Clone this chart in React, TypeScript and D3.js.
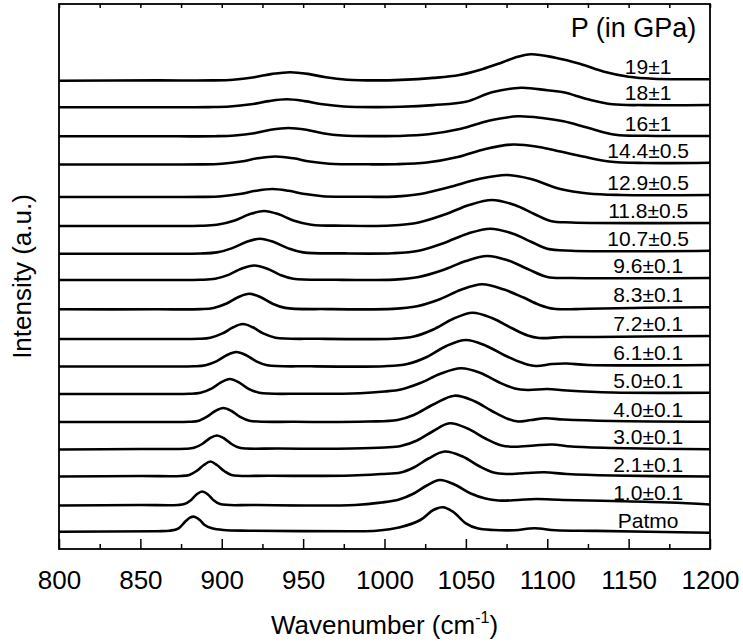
import React from 'react';
import * as d3 from 'd3';

// pressure labels, top spectrum first
const labels = ['19±1', '18±1', '16±1', '14.4±0.5', '12.9±0.5', '11.8±0.5', '10.7±0.5', '9.6±0.1',
    '8.3±0.1', '7.2±0.1', '6.1±0.1', '5.0±0.1', '4.0±0.1', '3.0±0.1', '2.1±0.1', '1.0±0.1', 'Patmo'];

// vertical stacking offset of each spectrum (a.u.)
const offsets = [468.3, 441.7, 412.7, 384.5, 352, 323, 295.3, 269, 239.7, 210, 182.5, 155, 127, 99.5, 72.5, 43.5, 17.3];

const majorTicks = [800, 850, 900, 950, 1000, 1050, 1100, 1150, 1200];
const minorTicks = [825, 875, 925, 975, 1025, 1075, 1125, 1175];

// [wavenumber, intensity above offset]
const s19 = [[800, 0], [860, 0.3], [894, 0.3], [907, 1], [920, 3.5], [931, 6.8], [942, 8.5], [953, 6.8], [964, 3.4], [977, 1], [995, 0.3],
    [1010, 0.8], [1030, 2.8], [1046, 5.7], [1060, 11.5], [1071, 17.5], [1080, 23], [1090, 26.5], [1105, 23], [1120, 17], [1135, 9],
    [1150, 4], [1165, 2], [1200, 1.4]];
const s18 = [[800, 0], [860, 0], [892, 0.2], [905, 0.8], [918, 3], [929, 6.2], [940, 8], [951, 6.2], [962, 3], [975, 0.8], [995, 0.2],
    [1010, 0.5], [1030, 2.2], [1050, 5.5], [1066, 15], [1084, 19.5], [1100, 17], [1110, 15], [1125, 8], [1140, 3], [1160, 2.2], [1200, 2.3]];
const s16 = [[800, 0], [860, 0], [896, 0.1], [908, 0.8], [920, 3.1], [930, 6.5], [941, 8.3], [952, 6.5], [962, 3.1], [974, 0.8], [995, 0.2],
    [1008, 0.3], [1027, 2], [1047, 7.5], [1064, 15.5], [1082, 20], [1098, 18], [1110, 15], [1125, 8.5], [1142, 1.5], [1160, 0.5], [1200, 0.3]];
const s14_4 = [[800, 0], [860, 0], [888, 0.1], [900, 0.8], [912, 3], [922, 6.2], [933, 8], [944, 6.2], [954, 3], [966, 0.8], [990, 0.2],
    [1007, 0.3], [1026, 2], [1045, 7.5], [1062, 15.6], [1079, 20], [1095, 17.5], [1108, 13], [1122, 8], [1138, 3], [1160, 1.5], [1200, 1.8]];
const s12_9 = [[800, 0], [860, 0], [889, 0.1], [900, 0.8], [911, 3], [921, 6.2], [931, 8], [941, 6.2], [951, 3], [962, 0.8], [990, 0.2],
    [1006, 0.4], [1022, 3], [1040, 10], [1058, 18], [1075, 22], [1090, 18], [1108, 8], [1125, 3.5], [1145, 2], [1200, 2]];
const s11_8 = [[800, 0], [860, 0], [887, 0.2], [897, 1.3], [908, 5.6], [917, 11.7], [926, 15], [935, 11.7], [944, 5.6], [955, 1.3], [975, 0.3],
    [1004, 0.5], [1021, 3.5], [1038, 12], [1052, 21], [1066, 26], [1080, 21], [1092, 12], [1102, 5], [1115, 3.5], [1200, 3]];
const s10_7 = [[800, 0], [860, 0], [887, 0.2], [897, 1.3], [906.5, 5.6], [915, 11.7], [923.5, 15], [932, 11.7], [940.5, 5.6], [950, 1.3], [975, 0.3],
    [1005, 0.5], [1021, 3], [1037, 11], [1051, 20], [1065, 25], [1079, 20], [1090, 12], [1100, 5], [1115, 3], [1200, 3]];
const s9_6 = [[800, 0], [860, 0], [887, 0.2], [896, 1.3], [904.5, 5.4], [912, 11.3], [920, 14.5], [928, 11.3], [935.5, 5.4], [944, 1.3], [970, 0.2],
    [1006, 0.4], [1021, 3], [1036, 10], [1050, 19], [1063, 24], [1076, 19.5], [1088, 11], [1100, 3], [1115, 2], [1200, 2]];
const s8_3 = [[800, 0], [860, 0], [887, 0.2], [895, 1.4], [903, 5.8], [910, 12.1], [917, 15.5], [924, 12.1], [931, 5.8], [939, 1.4], [965, 0.2],
    [1005, 0.4], [1020, 3], [1034, 10], [1047, 19.5], [1060, 25], [1073, 20], [1085, 12], [1095, 4.5], [1104, 0.5], [1125, 0.5], [1160, 1.5], [1200, 2]];
const s7_2 = [[800, 0], [860, 0], [886, 0.2], [893, 1.3], [900.5, 5.6], [907, 11.7], [913, 15], [919, 11.7], [925.5, 5.6], [933, 1.3], [960, 0.2],
    [1005, 0.3], [1018, 2.5], [1030, 9.5], [1042, 20], [1054, 26.3], [1066, 21], [1078, 11], [1088, 3.5], [1095, 1], [1110, 2], [1130, 2], [1160, 2.5], [1200, 3]];
const s6_1 = [[800, 0], [860, 0], [883, 0.2], [890, 1.3], [897, 5.4], [903, 11.3], [909, 14.5], [915, 11.3], [921, 5.4], [928, 1.3], [955, 0.2],
    [1000, 0.3], [1014, 2.5], [1026, 9.5], [1038, 20.5], [1050, 26.5], [1062, 21], [1074, 11], [1085, 3.5], [1093, 0.5], [1103, 2.5], [1112, 3], [1125, 1.5], [1200, 1.5]];
const s5_0 = [[800, 0], [860, 0], [880, 0.2], [887, 1.3], [894, 5.6], [899.5, 11.7], [905, 15], [910.5, 11.7], [916, 5.6], [923, 1.3], [950, 0.3],
    [985, 0.8], [1000, 2.5], [1010, 4.5], [1022, 11], [1034, 20], [1047, 25.7], [1059, 21], [1070, 12], [1080, 5.5], [1088, 4], [1100, 5], [1112, 3.5], [1140, 1.5], [1200, 1.3]];
const s4_0 = [[800, 0], [860, 0], [880, 0.2], [886, 1.3], [891, 5.3], [896, 11], [901, 14], [906, 11], [911, 5.3], [917, 1.3], [945, 0.2],
    [990, 0.5], [1008, 2], [1018, 7], [1030, 17.5], [1043, 26.3], [1055, 21], [1066, 11], [1076, 3], [1082, 0.5], [1090, 2], [1099, 3.7], [1110, 2.5], [1140, 1], [1200, 0.3]];
const s3_0 = [[800, 0], [850, 0.5], [878, 0.7], [883, 1.7], [888, 5.5], [892.5, 11], [897, 14], [901.5, 11], [906, 5.5], [911, 1.7], [935, 1],
    [980, 1], [1000, 2], [1010, 3.5], [1020, 9], [1030, 18.5], [1040, 26.2], [1051, 21], [1062, 11], [1072, 4], [1080, 2.8], [1092, 4], [1103, 5], [1115, 3], [1140, 1.5], [1200, 0.2]];
const s2_1 = [[800, 0], [850, 0.5], [875, 0.5], [880, 1.6], [884.5, 5.5], [889, 11.5], [893, 15], [897, 11.5], [901.5, 5.5], [906, 1.6], [930, 0.8],
    [980, 1], [998, 2.5], [1010, 4], [1018, 9], [1027, 18], [1037, 25], [1048, 20], [1058, 10.5], [1067, 4], [1075, 2.5], [1087, 3.5], [1098, 4.2], [1112, 2.5], [1140, 1], [1200, 0]];
const s1_0 = [[800, 0], [850, 0.5], [873, 0.5], [877, 1.4], [881, 5.3], [884.5, 11], [888, 14], [891.5, 11], [895, 5.3], [899, 1.4], [920, 0.5],
    [982, 0.5], [998, 3], [1009, 6], [1018, 12], [1026, 20], [1034, 25.5], [1043, 21], [1053, 12], [1062, 7], [1070, 5], [1082, 5.5], [1093, 6.5], [1110, 5.5], [1140, 4.5], [1175, 3], [1200, 1]];
const sAtm = [[800, 0], [860, 0.5], [868, 1], [873.5, 3.4], [877.5, 10], [880.5, 14], [883, 15], [886.5, 11.7], [889.5, 6.7], [894, 3.4], [901, 1.7], [917, 1],
    [980, 0.5], [995, 1], [1009.5, 4.4], [1022, 11.7], [1030, 21.7], [1036, 24.4], [1042, 20], [1050, 8.4], [1057, 3.4], [1067, 1.7], [1080, 1.5], [1092, 3.4], [1105, 1.5], [1130, 0.8], [1200, -1]];

const spectra = [s19, s18, s16, s14_4, s12_9, s11_8, s10_7, s9_6, s8_3, s7_2, s6_1, s5_0, s4_0, s3_0, s2_1, s1_0, sAtm];

const FONT = 'Liberation Sans, Arial, Helvetica, sans-serif';

class SpectraChart extends React.Component {
    svgRef = React.createRef<SVGSVGElement>();

    componentDidMount() {
        this.draw();
    }

    draw() {
        const width = 743, height = 644;
        const margin = { top: 4, right: 33, bottom: 95, left: 59 };

        const svg = d3.select(this.svgRef.current);
        svg.selectAll('*').remove();
        svg.attr('font-family', FONT);

        const x = d3.scaleLinear().domain([800, 1200]).range([margin.left, width - margin.right]);
        const y = d3.scaleLinear().domain([0, 545]).range([height - margin.bottom, margin.top]);

        // spectra
        svg.append('g').selectAll('path')
            .data(spectra)
            .enter().append('path')
            .attr('d', (d, i) => d3.line()
                .x(p => x(p[0]))
                .y(p => y(offsets[i] + p[1]))
                .curve(d3.curveCatmullRom.alpha(0.5))(d))
            .attr('fill', 'none')
            .attr('stroke', '#000')
            .attr('stroke-width', 2.6)
            .attr('stroke-linejoin', 'round');

        // pressure labels just above the right end of each trace
        svg.append('g').selectAll('text')
            .data(labels)
            .enter().append('text')
            .attr('x', x(1162))
            .attr('y', (d, i) => y(offsets[i] + spectra[i][spectra[i].length - 1][1]) - 5)
            .attr('text-anchor', 'middle')
            .attr('font-size', 21)
            .text(d => d);

        svg.append('text')
            .attr('x', x(1153))
            .attr('y', 37)
            .attr('text-anchor', 'middle')
            .attr('font-size', 27)
            .text('P (in GPa)');

        // axes, ticks pointing inward
        const bottom = svg.append('g').attr('transform', `translate(0,${y(0)})`);
        bottom.call(d3.axisBottom(x).tickValues(majorTicks).tickSize(-10).tickPadding(22).tickFormat(d3.format('d')));
        bottom.append('g').call(d3.axisBottom(x).tickValues(minorTicks).tickSize(-5).tickFormat(() => ''));
        bottom.attr('font-size', 26).attr('font-family', FONT);

        const top = svg.append('g').attr('transform', `translate(0,${y(545)})`);
        top.call(d3.axisTop(x).tickValues(majorTicks.concat(minorTicks)).tickSize(-4).tickFormat(() => ''));

        svg.selectAll('.domain').remove();
        svg.selectAll('.tick line').attr('stroke', '#000').attr('stroke-width', 1.5);
        svg.selectAll('.tick text').attr('fill', '#000');

        svg.append('rect')
            .attr('x', x(800))
            .attr('y', y(545))
            .attr('width', x(1200) - x(800))
            .attr('height', y(0) - y(545))
            .attr('fill', 'none')
            .attr('stroke', '#000')
            .attr('stroke-width', 1.8);

        // axis titles
        svg.append('text')
            .attr('transform', `translate(31,${(y(0) + y(545)) / 2}) rotate(-90)`)
            .attr('text-anchor', 'middle')
            .attr('font-size', 26)
            .text('Intensity (a.u.)');

        const xt = svg.append('text')
            .attr('x', (x(800) + x(1200)) / 2)
            .attr('y', 634)
            .attr('text-anchor', 'middle')
            .attr('font-size', 26);
        xt.append('tspan').text('Wavenumber (cm');
        xt.append('tspan').attr('font-size', 16).attr('dy', -11).text('-1');
        xt.append('tspan').attr('dy', 11).text(')');
    }

    render() {
        return (
            <svg ref={this.svgRef} width={743} height={644}
                style={{ position: 'absolute', left: 0, top: 0, background: '#fff' }}>
            </svg>
        );
    }
}

export default function App() {
    return <SpectraChart />;
}
